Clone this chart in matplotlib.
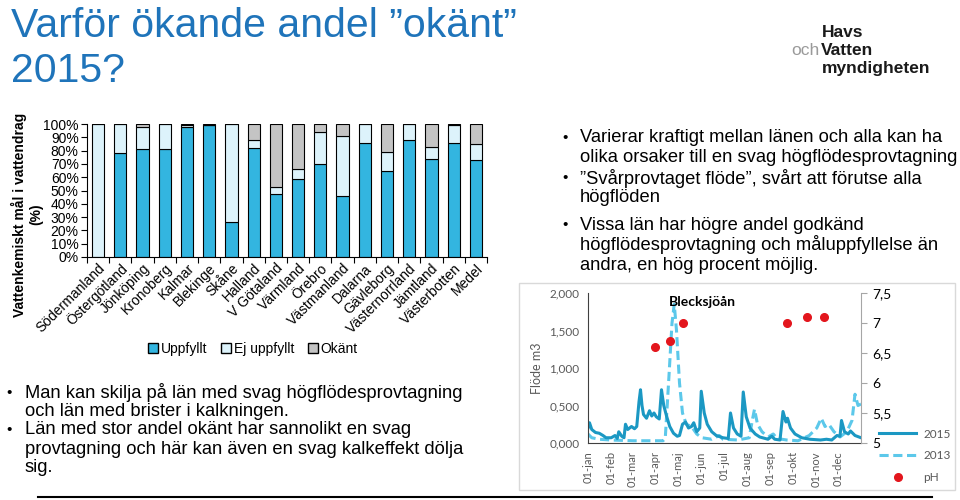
import numpy as np
import matplotlib
matplotlib.use("Agg")
import matplotlib.pyplot as plt
from matplotlib.lines import Line2D
from matplotlib.patches import Patch, Rectangle
from matplotlib.ticker import FuncFormatter

plt.rcParams['font.family'] = ['Liberation Sans', 'DejaVu Sans']

# ======================== Data =============================
lan = ['Södermanland', 'Östergötland', 'Jönköping', 'Kronoberg', 'Kalmar', 'Blekinge',
       'Skåne', 'Halland', 'V Götaland', 'Värmland', 'Örebro', 'Västmanland', 'Dalarna',
       'Gävleborg', 'Västernorrland', 'Jämtland', 'Västerbotten', 'Medel']
uppfyllt    = [0, 78, 81, 81, 98, 99, 26, 82, 47, 59, 70, 46, 86, 65, 88, 74, 86, 73]
ej_uppfyllt = [100, 22, 17, 19, 1, 0.5, 74, 6, 6, 7, 24, 45, 14, 14, 12, 9, 13, 12]
okant       = [0, 0, 2, 0, 1, 0.5, 0, 12, 47, 34, 6, 9, 0, 21, 0, 17, 1, 15]

# flow, Blecksjöån (day of year, value)
dag_2015 = [0, 2, 5, 10, 15, 20, 24, 31, 36, 39, 41, 45, 48, 50, 53, 58, 62, 65, 68, 70,
            72, 74, 78, 82, 85, 88, 91, 95, 98, 101, 105, 109, 114, 119, 122, 126, 130,
            134, 138, 141, 145, 149, 151, 155, 159, 165, 171, 180, 187, 190, 194, 199,
            204, 207, 211, 216, 223, 229, 240, 245, 249, 256, 260, 264, 266, 270, 276,
            285, 296, 310, 318, 325, 332, 336, 338, 342, 347, 350, 356, 364]
flode_2015 = [0.20, 0.27, 0.18, 0.14, 0.13, 0.10, 0.07, 0.07, 0.10, 0.06, 0.15, 0.09, 0.07,
              0.25, 0.18, 0.22, 0.19, 0.22, 0.55, 0.71, 0.50, 0.38, 0.33, 0.43, 0.36, 0.40,
              0.35, 0.32, 0.71, 0.50, 0.35, 0.22, 0.13, 0.09, 0.10, 0.25, 0.28, 0.20, 0.22,
              0.27, 0.15, 0.20, 0.69, 0.40, 0.25, 0.15, 0.10, 0.07, 0.06, 0.40, 0.20, 0.12,
              0.09, 0.68, 0.35, 0.20, 0.12, 0.08, 0.05, 0.09, 0.05, 0.04, 0.42, 0.28, 0.33,
              0.20, 0.12, 0.07, 0.05, 0.04, 0.05, 0.04, 0.10, 0.09, 0.30, 0.15, 0.12, 0.16,
              0.10, 0.07]
dag_2013 = [0, 5, 15, 30, 60, 80, 100, 103, 108, 112, 115, 118, 122, 126, 131, 138, 145,
            152, 165, 175, 180, 200, 215, 219, 222, 226, 232, 240, 247, 252, 265, 280, 295,
            305, 311, 316, 321, 328, 336, 345, 352, 356, 360, 364]
flode_2013 = [0.12, 0.07, 0.05, 0.04, 0.03, 0.03, 0.03, 0.06, 0.90, 1.60, 1.85, 1.50, 0.80,
              0.40, 0.25, 0.22, 0.12, 0.07, 0.05, 0.10, 0.05, 0.04, 0.07, 0.30, 0.45, 0.25,
              0.15, 0.08, 0.12, 0.06, 0.04, 0.03, 0.10, 0.20, 0.33, 0.22, 0.25, 0.15, 0.08,
              0.15, 0.30, 0.65, 0.50, 0.52]
dag_ph = [89, 109, 126, 265, 292, 314]
ph = [6.6, 6.7, 7.0, 7.0, 7.1, 7.1]

manad_dag = [0, 31, 59, 90, 120, 151, 181, 212, 243, 273, 304, 334]
manad_txt = ['01-jan', '01-feb', '01-mar', '01-apr', '01-maj', '01-jun', '01-jul',
             '01-aug', '01-sep', '01-okt', '01-nov', '01-dec']

# ======================== Figure =============================
W, H = 960, 500
fig = plt.figure(figsize=(9.6, 5.0), dpi=100, facecolor='white')

def px(x0, y0, x1, y1):
    return [x0 / W, 1 - y1 / H, (x1 - x0) / W, (y1 - y0) / H]

def ftxt(x, y, s, **kw):
    fig.text(x / W, 1 - y / H, s, **kw)

# title
titel_farg = '#1F74BA'
ftxt(11, 37, 'Varför ökande andel ”okänt”', fontsize=29.5, color=titel_farg, va='baseline')
ftxt(11, 82, '2015?', fontsize=29.5, color=titel_farg, va='baseline')

# logo
ftxt(822, 37, 'Havs', fontsize=12.5, fontweight='bold', color='#1a1a1a', va='baseline')
ftxt(821, 55, 'Vatten', fontsize=12.5, fontweight='bold', color='#1a1a1a', va='baseline')
ftxt(819, 55, 'och', fontsize=12.5, color='#9a9a9a', va='baseline', ha='right')
ftxt(822, 73, 'myndigheten', fontsize=12.5, fontweight='bold', color='#1a1a1a', va='baseline')

# ======================== Bar chart =============================
ax = fig.add_axes(px(87, 124, 487, 257))
x = np.arange(len(lan))
c_upp, c_ej, c_ok = '#33B5E0', '#DDF3FB', '#C4C4C4'
bw = 0.55
ax.bar(x, uppfyllt, bw, color=c_upp, edgecolor='black', linewidth=0.8)
ax.bar(x, ej_uppfyllt, bw, bottom=uppfyllt, color=c_ej, edgecolor='black', linewidth=0.8)
ax.bar(x, okant, bw, bottom=np.array(uppfyllt) + np.array(ej_uppfyllt),
       color=c_ok, edgecolor='black', linewidth=0.8)
ax.set_xlim(-0.5, len(lan) - 0.5)
ax.set_ylim(0, 100)
ax.set_yticks(np.arange(0, 101, 10))
ax.yaxis.set_major_formatter(FuncFormatter(lambda v, p: f'{int(v)}%'))
ax.set_xticks(np.arange(-0.5, len(lan), 1))
ax.set_xticklabels([])
ax.set_xticks(x, minor=True)
ax.set_xticklabels(lan, minor=True, rotation=45, ha='right', rotation_mode='anchor', fontsize=10)
ax.tick_params(axis='x', which='minor', length=0, pad=3)
ax.tick_params(axis='x', which='major', length=4, width=0.8)
ax.tick_params(axis='y', length=4, width=0.8, labelsize=10, pad=2)
for s in ['top', 'right']:
    ax.spines[s].set_visible(False)
ax.set_ylabel('Vattenkemiskt mål i vattendrag\n(%)', fontsize=10, fontweight='bold')
ax.yaxis.set_label_coords(-0.11, 0.32)

leg = [Patch(facecolor=c_upp, edgecolor='black', label='Uppfyllt'),
       Patch(facecolor=c_ej, edgecolor='black', label='Ej uppfyllt'),
       Patch(facecolor=c_ok, edgecolor='black', label='Okänt')]
fig.legend(handles=leg, loc='center', bbox_to_anchor=(253 / W, 1 - 349 / H), ncol=3,
           frameon=False, fontsize=10, handlelength=0.7, handleheight=0.7,
           handletextpad=0.2, columnspacing=1.0)

# bullet text, left
txt_size = 13.2
rader_v = [(393, True, 'Man kan skilja på län med svag högflödesprovtagning'),
           (412, False, 'och län med brister i kalkningen.'),
           (430, True, 'Län med stor andel okänt har sannolikt en svag'),
           (449, False, 'provtagning och här kan även en svag kalkeffekt dölja'),
           (467, False, 'sig.')]
for y, bullet, s in rader_v:
    if bullet:
        ftxt(6, y, '•', fontsize=11, va='center')
    ftxt(25, y, s, fontsize=txt_size, va='center')

# bullet text, right
rader_h = [(138, True, 'Varierar kraftigt mellan länen och alla kan ha'),
           (157, False, 'olika orsaker till en svag högflödesprovtagning'),
           (178, True, '”Svårprovtaget flöde”, svårt att förutse alla'),
           (197, False, 'högflöden'),
           (225, True, 'Vissa län har högre andel godkänd'),
           (245, False, 'högflödesprovtagning och måluppfyllelse än'),
           (266, False, 'andra, en hög procent möjlig.')]
for y, bullet, s in rader_h:
    if bullet:
        ftxt(562, y, '•', fontsize=11, va='center')
    ftxt(580, y, s, fontsize=txt_size, va='center')

# ======================== Flow chart =============================
fig.patches.append(Rectangle((519 / W, 1 - 490 / H), 436 / W, 207 / H, transform=fig.transFigure,
                             facecolor='none', edgecolor='#D9D9D9', linewidth=1))
ax2 = fig.add_axes(px(588, 293, 861, 443))
ax2.plot(dag_2013, flode_2013, color='#5CC8EA', linewidth=2.2, linestyle=(0, (3, 1.5)))
ax2.plot(dag_2015, flode_2015, color='#1B98C3', linewidth=2.2)
ax2.set_xlim(0, 364)
ax2.set_ylim(0, 2)
ax2.set_yticks(np.arange(0, 2.01, 0.5))
ax2.yaxis.set_major_formatter(FuncFormatter(lambda v, p: f'{v:.3f}'.replace('.', ',')))
ax2.set_xticks(manad_dag)
ax2.set_xticklabels(manad_txt, rotation=90, fontsize=8, color='#595959', family='Lato')
ax2.tick_params(axis='y', labelsize=8.5, labelcolor='#595959', length=0, pad=6)
ax2.tick_params(axis='x', length=0, pad=6)
for lab in ax2.get_yticklabels():
    lab.set_family('Lato')
ax2.spines['top'].set_visible(False)
ax2.spines['right'].set_visible(False)
ax2.spines['left'].set_color('#404040')
ax2.spines['bottom'].set_color('#404040')
ax2.set_ylabel('Flöde m3', fontsize=9, color='#595959', family='Lato', labelpad=5)
ax2.text(0.42, 0.94, 'Blecksjöån', transform=ax2.transAxes, fontsize=10, fontweight='bold',
         family='Lato', ha='center', va='center')

ax3 = ax2.twinx()
ax3.plot(dag_ph, ph, 'o', color='#E3161D', markersize=5.5)
ax3.set_ylim(5, 7.5)
ax3.set_yticks(np.arange(5, 7.51, 0.5))
ax3.yaxis.set_major_formatter(FuncFormatter(lambda v, p: f'{v:g}'.replace('.', ',')))
ax3.tick_params(axis='y', labelsize=10, length=4, color='#A6A6A6', pad=4)
for lab in ax3.get_yticklabels():
    lab.set_family('Lato')
for s in ['top', 'left', 'bottom']:
    ax3.spines[s].set_visible(False)
ax3.spines['right'].set_color('#A6A6A6')

leg2 = [Line2D([], [], color='#1B98C3', linewidth=2.2, label='2015'),
        Line2D([], [], color='#5CC8EA', linewidth=2.2, linestyle=(0, (3, 1.5)), label='2013'),
        Line2D([], [], color='#E3161D', marker='o', linestyle='none', markersize=5.5, label='pH')]
fig.legend(handles=leg2, loc='upper left', bbox_to_anchor=(868 / W, 1 - 418 / H), frameon=False,
           prop={'family': 'Lato', 'size': 8.5}, labelcolor='#595959', handlelength=3.2,
           labelspacing=0.9, handletextpad=0.6)

# bottom divider
fig.add_artist(Line2D([38 / W, 932 / W], [1 - 497 / H, 1 - 497 / H], color='black', linewidth=1.5))

fig.savefig('out.png', dpi=100, facecolor='white')
